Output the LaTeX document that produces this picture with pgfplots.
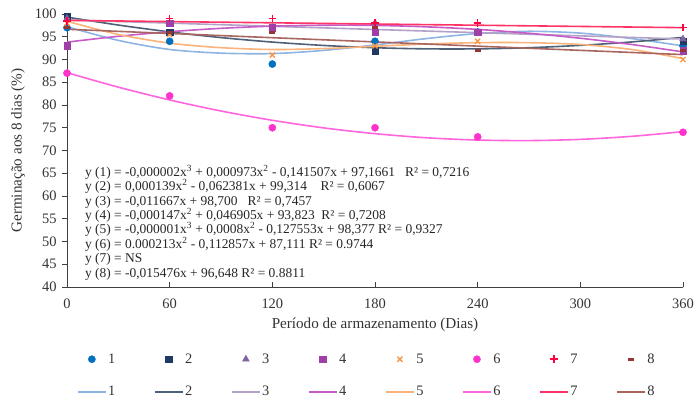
\documentclass[border=0pt]{standalone}
\usepackage{pgfplots}
\pgfplotsset{compat=1.18}
\usepackage{fontspec}
\setmainfont{Liberation Serif}
\definecolor{m1}{HTML}{0070C0}
\definecolor{m2}{HTML}{1F3864}
\definecolor{m3}{HTML}{8064A2}
\definecolor{m4}{HTML}{9E40A8}
\definecolor{m5}{HTML}{F79646}
\definecolor{m6}{HTML}{FF33CC}
\definecolor{m7}{HTML}{FF0040}
\definecolor{m8}{HTML}{963634}
\definecolor{l1}{HTML}{8DB4E2}
\definecolor{l2}{HTML}{4F6178}
\definecolor{l3}{HTML}{B3A2C7}
\definecolor{l4}{HTML}{C65CC6}
\definecolor{l5}{HTML}{F9B37B}
\definecolor{l6}{HTML}{FF66DD}
\definecolor{l7}{HTML}{FF3366}
\definecolor{l8}{HTML}{A9655F}
\begin{document}
\begin{tikzpicture}
\useasboundingbox (-67bp,-113bp) rectangle (627bp,287bp);
\begin{axis}[
  at={(0,0)}, anchor=south west,
  scale only axis, width=616bp, height=273bp,
  xmin=0, xmax=360, ymin=40, ymax=100,
  xtick={0,60,...,360}, ytick={40,45,...,100},
  axis x line=bottom, axis y line=left,
  axis line style={-, black!75, line width=0.9bp},
  tick align=inside, major tick length=5bp,
  tick style={black!75, line width=0.9bp},
  ytick style={xshift=-5bp},
  yticklabel style={xshift=-7bp},
  xticklabel style={yshift=-8bp},
  /pgf/number format/assume math mode=true,
  tick label style={font=\fontsize{14.5}{16}\selectfont, text=black!80},
  label style={font=\fontsize{15.2}{17}\selectfont, text=black!80},
  xlabel={Período de armazenamento (Dias)},
  ylabel={Germinação aos 8 dias (\%)},
  xlabel style={at={(axis description cs:0.5,-0.139)}, anchor=center},
  ylabel style={at={(axis description cs:-0.0795,0.5)}, anchor=center},
  clip=false,
  legend columns=8,
  legend image code/.code={\draw[mark repeat=2,mark phase=2,#1] plot coordinates {(0bp,0bp) (14bp,0bp) (28bp,0bp)};},
  legend style={draw=none, fill=none, at={(axis description cs:0.016,-0.238)}, anchor=north west,
    inner xsep=0pt, inner ysep=0pt,
    font=\fontsize{14.5}{16}\selectfont, text=black!80,
    nodes={inner sep=1.5bp},
    /tikz/every even column/.append style={column sep=37.2bp},
    row sep=18.5bp},
]
% trend lines (drawn first, below the markers)
\addplot[forget plot, color=l1, line width=1.6bp, smooth, no marks] coordinates {(0,97.2) (30,94.2) (60,92.2) (90,91.4) (120,91.3) (150,92.0) (180,93.2) (210,94.6) (240,95.7) (270,96.2) (300,95.8) (330,94.6) (360,93)};
\addplot[forget plot, color=l2, line width=1.6bp, smooth, no marks] coordinates {(0,99.31) (30,97.57) (60,96.07) (90,94.82) (120,93.83) (150,93.09) (180,92.59) (210,92.34) (240,92.34) (270,92.59) (300,93.11) (330,93.86) (360,94.87)};
\addplot[forget plot, color=l3, line width=1.6bp, no marks] coordinates {(0,98.7) (360,94.5)};
\addplot[forget plot, color=l4, line width=1.6bp, smooth, no marks] coordinates {(0,93.82) (30,95.10) (60,96.11) (90,96.85) (120,97.33) (150,97.53) (180,97.50) (210,97.18) (240,96.62) (270,95.76) (300,94.67) (330,93.3) (360,91.67)};
\addplot[forget plot, color=l5, line width=1.6bp, smooth, no marks] coordinates {(0,98.4) (30,95.5) (60,93.6) (90,92.6) (120,92.2) (150,92.4) (180,92.9) (210,93.4) (240,93.7) (270,93.7) (300,93.3) (330,92.2) (360,90.2)};
\addplot[forget plot, color=l6, line width=1.6bp, smooth, no marks] coordinates {(0,87.11) (30,83.92) (60,81.11) (90,78.68) (120,76.64) (150,74.97) (180,73.70) (210,72.80) (240,72.30) (270,72.18) (300,72.45) (330,73.11) (360,74.15)};
\addplot[forget plot, color=l7, line width=1.6bp, no marks] coordinates {(0,98.6) (360,97.0)};
\addplot[forget plot, color=l8, line width=1.6bp, no marks] coordinates {(0,96.65) (360,91.08)};
% markers
\addplot[only marks, mark=*, mark size=3.6bp, color=m1] coordinates {(0,97) (60,94) (120,89) (180,94) (240,96) (360,93)};
\addplot[only marks, mark=square*, mark size=3.3bp, color=m2] coordinates {(0,99.5) (60,96) (120,97) (180,92) (240,96) (360,94)};
\addplot[only marks, mark=triangle*, mark size=4bp, color=m3] coordinates {(0,99) (60,98) (120,97) (180,98) (240,96) (360,94.5)};
\addplot[only marks, mark=square*, mark size=3.3bp, color=m4] coordinates {(0,93) (60,98) (120,97) (180,96) (240,96) (360,92)};
\addplot[only marks, mark=x, mark size=3.6bp, color=m5, mark options={line width=1.4bp}] coordinates {(0,98) (60,95.5) (120,91) (180,93) (240,94) (360,90)};
\addplot[only marks, mark=*, mark size=3.6bp, color=m6] coordinates {(0,87) (60,82) (120,75) (180,75) (240,73) (360,74)};
\addplot[only marks, mark=+, mark size=3.8bp, color=m7, mark options={line width=1.6bp}] coordinates {(0,98.5) (60,99) (120,99) (180,98) (240,98) (360,97)};
\addplot[only marks, mark=-, mark size=3bp, color=m8, mark options={line width=2.6bp}] coordinates {(0,97) (60,96) (120,96) (180,97) (240,92) (360,92)};
\addlegendimage{color=l1, line width=1.6bp}
\addlegendimage{color=l2, line width=1.6bp}
\addlegendimage{color=l3, line width=1.6bp}
\addlegendimage{color=l4, line width=1.6bp}
\addlegendimage{color=l5, line width=1.6bp}
\addlegendimage{color=l6, line width=1.6bp}
\addlegendimage{color=l7, line width=1.6bp}
\addlegendimage{color=l8, line width=1.6bp}
\legend{1,2,3,4,5,6,7,8,1,2,3,4,5,6,7,8}
\node[anchor=north west, align=left, inner sep=0pt, text=black!85,
  font=\fontsize{13.5}{14.4}\selectfont] at (rel axis cs:0.029,0.447) {%
y (1) = -0,000002x\textsuperscript{3} + 0,000973x\textsuperscript{2} - 0,141507x + 97,1661\ \ \ R² = 0,7216\\
y (2) = 0,000139x\textsuperscript{2} - 0,062381x + 99,314\ \ \ \ R² = 0,6067\\
y (3) = -0,011667x + 98,700\ \ \ R² = 0,7457\\
y (4) = -0,000147x\textsuperscript{2} + 0,046905x + 93,823\ \ R² = 0,7208\\
y (5) = -0,000001x\textsuperscript{3} + 0,0008x\textsuperscript{2} - 0,127553x + 98,377 R² = 0,9327\\
y (6) = 0.000213x\textsuperscript{2} - 0,112857x + 87,111 R² = 0.9744\\
y (7) = NS\\
y (8) = -0,015476x + 96,648 R² = 0.8811};
\end{axis}
\end{tikzpicture}
\end{document}
